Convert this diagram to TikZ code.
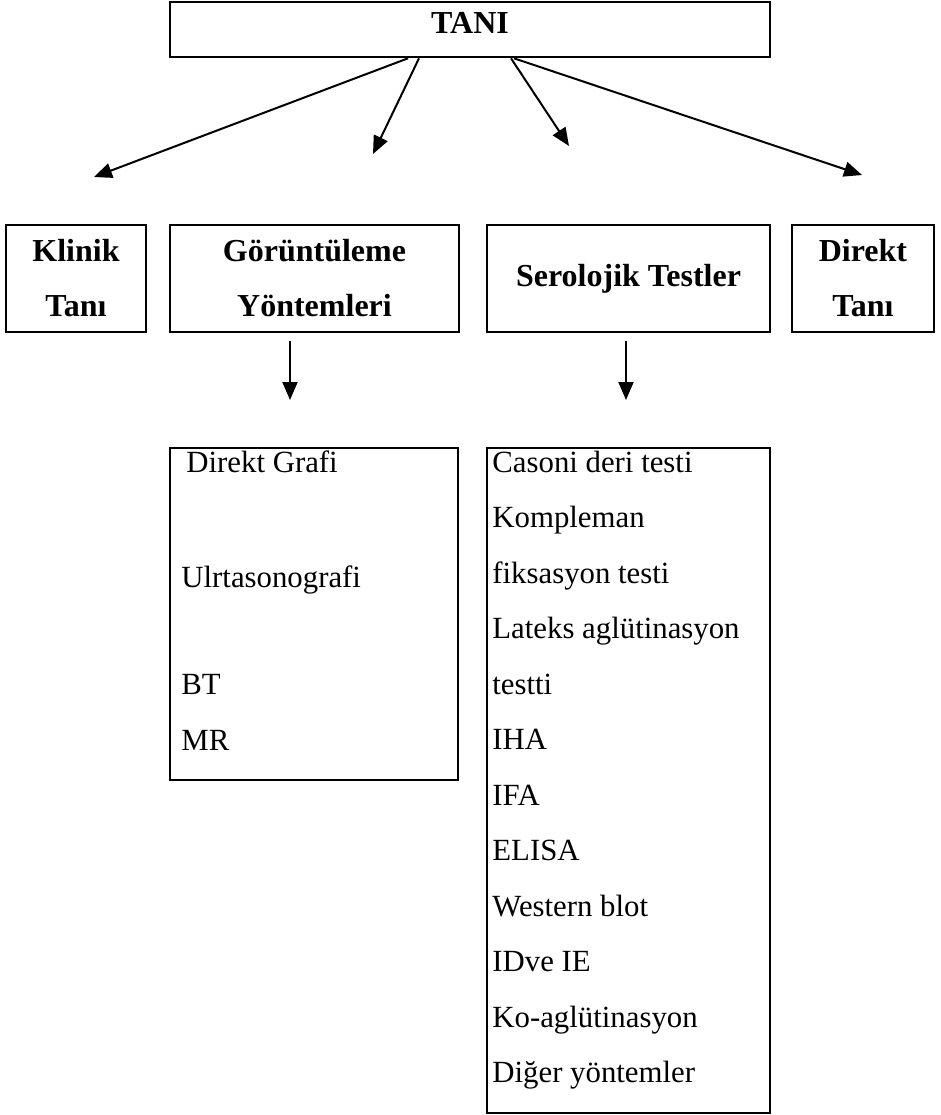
\documentclass[tikz,border=0pt]{standalone}
\usepackage{fontspec}
\setmainfont{Liberation Serif}
\usetikzlibrary{arrows.meta, calc}

\begin{document}
\begin{tikzpicture}[x=0.5pt, y=-0.5pt,
        box/.style={draw, line width=1.3pt, rectangle, inner sep=0pt, align=center,
            font=\fontsize{16}{27.5}\selectfont\bfseries},
        item/.style={anchor=base west, inner sep=0pt, font=\fontsize{15.4}{17}\selectfont},
        arr/.style={line width=1pt, -{Triangle[length=9pt, width=7.5pt]}}]
            \useasboundingbox (0,0) rectangle (941,1115);

            \node[box, minimum width=300pt, minimum height=27.5pt, text depth=7pt] (tani) at (470,29.5) {TANI};

            \node[box, minimum width=70pt, minimum height=53.5pt] (klinik) at (76,278.5) {Klinik\\Tanı};
            \node[box, minimum width=144.5pt, minimum height=53.5pt] (gor) at (314.5,278.5) {Görüntüleme\\Yöntemleri};
            \node[box, minimum width=141.5pt, minimum height=53.5pt] (sero) at (628.5,278.5) {Serolojik Testler};
            \node[box, minimum width=71pt, minimum height=53.5pt] (direkt) at (863,278.5) {Direkt\\Tanı};

            \coordinate (k) at (94,177);
            \coordinate (g) at (373,154);
            \coordinate (s) at (569,146);
            \coordinate (d) at (862,175);
            \draw[arr] ([xshift=-31pt]tani.south) -- (k);
            \draw[arr] ([xshift=-25.5pt]tani.south) -- (g);
            \draw[arr] ([xshift=20.5pt]tani.south) -- (s);
            \draw[arr] ([xshift=22pt]tani.south) -- (d);

            \coordinate (gd) at (290,400);
            \coordinate (sd) at (626,400);
            \draw[arr] ($(gor.south -| gd)+(0,8)$) -- (gd);
            \draw[arr] ($(sero.south -| sd)+(0,8)$) -- (sd);

            \node[box, minimum width=144pt, minimum height=166pt] (gorlist) at (314,614) {};
            \node[item] (g1) at (186,472) {Direkt Grafi};
            \node[item] (g2) at (181,587) {Ulrtasonografi};
            \node[item] (g3) at (181,694) {BT};
            \node[item] (g4) at (181,750) {MR};

            \node[box, minimum width=141.5pt, minimum height=332.5pt] (serolist) at (628.5,780.5) {};
            \node[item] (s1) at (492,472) {Casoni deri testi};
            \node[item] (s2) at (492,527.5) {Kompleman};
            \node[item] (s3) at (492,583) {fiksasyon testi};
            \node[item] (s4) at (492,638.5) {Lateks aglütinasyon};
            \node[item] (s5) at (492,694) {testti};
            \node[item] (s6) at (492,749.5) {IHA};
            \node[item] (s7) at (492,805) {IFA};
            \node[item] (s8) at (492,860.5) {ELISA};
            \node[item] (s9) at (492,916) {Western blot};
            \node[item] (s10) at (492,971.5) {IDve IE};
            \node[item] (s11) at (492,1027) {Ko-aglütinasyon};
            \node[item] (s12) at (492,1082.5) {Diğer yöntemler};
\end{tikzpicture}
\end{document}
